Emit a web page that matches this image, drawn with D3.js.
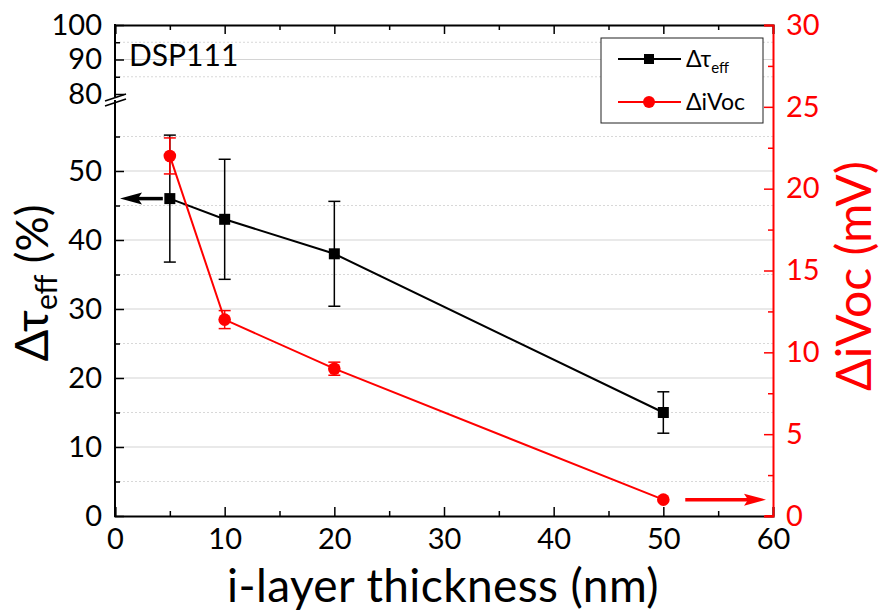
<!DOCTYPE html>
<html><head><meta charset="utf-8">
<script src="https://cdn.jsdelivr.net/npm/d3@7"></script>
<style>
body{margin:0;background:#fff;}
text{font-family:Lato,"Open Sans",sans-serif;}
</style></head>
<body><svg id="c" width="886" height="613"></svg>
<script>
// ---- data ----
const thickness = [5, 10, 20, 50];
const tauEff = [46, 43, 38, 15];
const tauErrLow = [36.8, 34.3, 30.4, 12.0];
const tauErrHigh = [55.2, 51.7, 45.6, 18.0];
const dIVoc = [22, 12, 9, 1];
const vocErrLow = [20.9, 11.45, 8.6, 1];
const vocErrHigh = [23.1, 12.55, 9.4, 1];
const xTicks = [0, 10, 20, 30, 40, 50, 60];
const yLowTicks = [0, 10, 20, 30, 40, 50];
const yHighTicks = [80, 90, 100];
const yRightTicks = [0, 5, 10, 15, 20, 25, 30];

const svg = d3.select("#c");
const L = 115, R = 773, T = 25, B = 516;
const x = d3.scaleLinear().domain([0, 60]).range([L, R]);
const yLow = d3.scaleLinear().domain([0, 60]).range([B, 102]);
const yHigh = d3.scaleLinear().domain([80, 100]).range([94, T]);
const yR = d3.scaleLinear().domain([0, 30]).range([B, T]);
const red = "#ff0000";
const FS = 29;

// gridlines
const g = svg.append("g");
const majLow = [10, 20, 30, 40, 50], minLow = [5, 15, 25, 35, 45, 55];
g.selectAll(".gm").data(majLow).enter().append("line")
  .attr("x1", L).attr("x2", R).attr("y1", d => yLow(d)).attr("y2", d => yLow(d))
  .attr("stroke", "#d4d4d4").attr("stroke-width", 1.2);
g.selectAll(".gn").data(minLow).enter().append("line")
  .attr("x1", L).attr("x2", R).attr("y1", d => yLow(d)).attr("y2", d => yLow(d))
  .attr("stroke", "#d8d8d8").attr("stroke-width", 1).attr("stroke-dasharray", "2,2");
g.append("line").attr("x1", L).attr("x2", R).attr("y1", yHigh(90)).attr("y2", yHigh(90))
  .attr("stroke", "#d4d4d4").attr("stroke-width", 1.2);
g.selectAll(".gh").data([85, 95]).enter().append("line")
  .attr("x1", L).attr("x2", R).attr("y1", d => yHigh(d)).attr("y2", d => yHigh(d))
  .attr("stroke", "#d8d8d8").attr("stroke-width", 1).attr("stroke-dasharray", "2,2");

// bottom axis
const xAxis = d3.axisBottom(x).tickValues(xTicks).tickSize(-9).tickPadding(14).tickFormat(d3.format("d"));
const gx = svg.append("g").attr("transform", `translate(0,${B})`).call(xAxis);
gx.select(".domain").attr("stroke", "#000").attr("stroke-width", 2);
gx.selectAll(".tick line").attr("stroke-width", 1.5);
gx.selectAll("text").attr("font-size", FS).attr("fill", "#000").attr("dy", "0.71em").attr("y", 12);
svg.append("g").attr("transform", `translate(0,${B})`)
  .call(d3.axisBottom(x).tickValues([5, 15, 25, 35, 45, 55]).tickSize(-5).tickFormat(""))
  .call(s => { s.select(".domain").remove(); s.selectAll("line").attr("stroke-width", 1.5); });
// top axis
const gt = svg.append("g").attr("transform", `translate(0,${T})`)
  .call(d3.axisTop(x).tickValues(xTicks).tickSize(-9).tickFormat(""));
gt.select(".domain").attr("stroke-width", 2);
gt.selectAll("line").attr("stroke-width", 1.5);
svg.append("g").attr("transform", `translate(0,${T})`)
  .call(d3.axisTop(x).tickValues([5, 15, 25, 35, 45, 55]).tickSize(-5).tickFormat(""))
  .call(s => { s.select(".domain").remove(); s.selectAll("line").attr("stroke-width", 1.5); });

// left axis (lower segment)
const gl = svg.append("g").attr("transform", `translate(${L},0)`)
  .call(d3.axisLeft(yLow).tickValues(yLowTicks).tickSize(-9).tickPadding(13).tickFormat(d3.format("d")));
gl.select(".domain").remove();
gl.selectAll("line").attr("stroke-width", 1.5);
gl.selectAll("text").attr("font-size", FS).attr("fill", "#000").attr("x", -13);
svg.append("g").attr("transform", `translate(${L},0)`)
  .call(d3.axisLeft(yLow).tickValues(minLow).tickSize(-5).tickFormat(""))
  .call(s => { s.select(".domain").remove(); s.selectAll("line").attr("stroke-width", 1.5); });
svg.append("line").attr("x1", L).attr("x2", L).attr("y1", B + 1).attr("y2", 100)
  .attr("stroke", "#000").attr("stroke-width", 2);
// left axis (upper segment)
const gu = svg.append("g").attr("transform", `translate(${L},0)`)
  .call(d3.axisLeft(yHigh).tickValues(yHighTicks).tickSize(-9).tickPadding(13).tickFormat(d3.format("d")));
gu.select(".domain").remove();
gu.selectAll("line").attr("stroke-width", 1.5);
gu.selectAll("text").attr("font-size", FS).attr("fill", "#000").attr("x", -13);
svg.append("g").attr("transform", `translate(${L},0)`)
  .call(d3.axisLeft(yHigh).tickValues([85, 95]).tickSize(-5).tickFormat(""))
  .call(s => { s.select(".domain").remove(); s.selectAll("line").attr("stroke-width", 1.5); });
svg.append("line").attr("x1", L).attr("x2", L).attr("y1", T - 1).attr("y2", 97)
  .attr("stroke", "#000").attr("stroke-width", 2);
// break marks
svg.append("rect").attr("x", L - 3).attr("y", 97).attr("width", 6).attr("height", 3).attr("fill", "#fff");
svg.append("line").attr("x1", 105).attr("y1", 101).attr("x2", 126).attr("y2", 94).attr("stroke", "#000").attr("stroke-width", 1.5);
svg.append("line").attr("x1", 105).attr("y1", 106).attr("x2", 126).attr("y2", 99).attr("stroke", "#000").attr("stroke-width", 1.5);

// right axis
const gr = svg.append("g").attr("transform", `translate(${R},0)`)
  .call(d3.axisRight(yR).tickValues(yRightTicks).tickSize(-9).tickPadding(12).tickFormat(d3.format("d")));
gr.select(".domain").attr("stroke", red).attr("stroke-width", 2);
gr.selectAll("line").attr("stroke", red).attr("stroke-width", 1.5);
gr.selectAll("text").attr("font-size", FS).attr("fill", red).attr("x", 13);
svg.append("g").attr("transform", `translate(${R},0)`)
  .call(d3.axisRight(yR).tickValues([2.5, 7.5, 12.5, 17.5, 22.5, 27.5]).tickSize(-5).tickFormat(""))
  .call(s => { s.select(".domain").remove(); s.selectAll("line").attr("stroke", red).attr("stroke-width", 1.5); });
svg.append("line").attr("x1", R - 8).attr("x2", R + 1).attr("y1", B).attr("y2", B).attr("stroke", red).attr("stroke-width", 2);

// series
const tau = thickness.map((t, i) => ({ x: t, y: tauEff[i], lo: tauErrLow[i], hi: tauErrHigh[i] }));
const voc = thickness.map((t, i) => ({ x: t, y: dIVoc[i], lo: vocErrLow[i], hi: vocErrHigh[i] }));

svg.append("path").datum(tau).attr("fill", "none").attr("stroke", "#000").attr("stroke-width", 2)
  .attr("d", d3.line().x(d => x(d.x)).y(d => yLow(d.y)));
const eb = svg.append("g").attr("stroke", "#000").attr("stroke-width", 1.5);
tau.forEach(d => {
  eb.append("line").attr("x1", x(d.x)).attr("x2", x(d.x)).attr("y1", yLow(d.lo)).attr("y2", yLow(d.hi));
  [d.lo, d.hi].forEach(v => eb.append("line").attr("x1", x(d.x) - 6).attr("x2", x(d.x) + 6).attr("y1", yLow(v)).attr("y2", yLow(v)));
});

svg.append("path").datum(voc).attr("fill", "none").attr("stroke", red).attr("stroke-width", 2)
  .attr("d", d3.line().x(d => x(d.x)).y(d => yR(d.y)));
const ebr = svg.append("g").attr("stroke", red).attr("stroke-width", 1.5);
voc.filter(d => d.hi > d.lo).forEach(d => {
  ebr.append("line").attr("x1", x(d.x)).attr("x2", x(d.x)).attr("y1", yR(d.lo)).attr("y2", yR(d.hi));
  [d.lo, d.hi].forEach(v => ebr.append("line").attr("x1", x(d.x) - 6).attr("x2", x(d.x) + 6).attr("y1", yR(v)).attr("y2", yR(v)));
});
svg.selectAll(".sq").data(tau).enter().append("rect")
  .attr("x", d => x(d.x) - 5.5).attr("y", d => yLow(d.y) - 5.5).attr("width", 11).attr("height", 11).attr("fill", "#000");
svg.selectAll(".ci").data(voc).enter().append("circle")
  .attr("cx", d => x(d.x)).attr("cy", d => yR(d.y)).attr("r", 6.3).attr("fill", red);

// arrows
function arrow(x1, x2, y, col) {
  const dir = Math.sign(x2 - x1);
  svg.append("line").attr("x1", x1).attr("x2", x2 - dir * 12).attr("y1", y).attr("y2", y)
    .attr("stroke", col).attr("stroke-width", 3.5);
  svg.append("path").attr("fill", col)
    .attr("d", `M${x2},${y} L${x2 - dir * 22},${y - 6} L${x2 - dir * 18},${y} L${x2 - dir * 22},${y + 6} Z`);
}
arrow(x(5) - 7, L + 5, yLow(tauEff[0]), "#000");
arrow(x(52), R - 7, yR(dIVoc[3]), red);

// DSP label
svg.append("text").attr("x", 129).attr("y", 66).attr("font-size", 30).text("DSP111");

// legend
const lg = svg.append("g");
lg.append("rect").attr("x", 601).attr("y", 38).attr("width", 162).attr("height", 85)
  .attr("fill", "#fff").attr("stroke", "#222").attr("stroke-width", 1);
lg.append("line").attr("x1", 618).attr("x2", 681).attr("y1", 59).attr("y2", 59).attr("stroke", "#000").attr("stroke-width", 2);
lg.append("rect").attr("x", 644).attr("y", 54).attr("width", 10).attr("height", 10).attr("fill", "#000");
lg.append("line").attr("x1", 618).attr("x2", 681).attr("y1", 102).attr("y2", 102).attr("stroke", red).attr("stroke-width", 2);
lg.append("circle").attr("cx", 649).attr("cy", 102).attr("r", 6).attr("fill", red);
const lt1 = lg.append("text").attr("x", 686).attr("y", 67).attr("font-size", 23);
lt1.append("tspan").text("Δτ");
lt1.append("tspan").attr("font-size", 15).attr("dy", 6).text("eff");
lg.append("text").attr("x", 686).attr("y", 110).attr("font-size", 23).text("ΔiVoc");

// axis titles
svg.append("text").attr("x", 443).attr("y", 602).attr("text-anchor", "middle").attr("font-size", 46)
  .attr("letter-spacing", 0.4).text("i-layer thickness (nm)");
const yt = svg.append("text").attr("transform", "translate(48,283) rotate(-90)").attr("text-anchor", "middle").attr("font-size", 44);
yt.append("tspan").attr("font-size", 47).text("Δτ");
yt.append("tspan").attr("font-size", 30).attr("dy", 9).text("eff");
yt.append("tspan").attr("dy", -9).text(" (%)");
svg.append("text").attr("transform", "translate(871,276) rotate(-90)").attr("text-anchor", "middle")
  .attr("font-size", 48).attr("fill", red).text("ΔiVoc (mV)");
</script></body></html>
